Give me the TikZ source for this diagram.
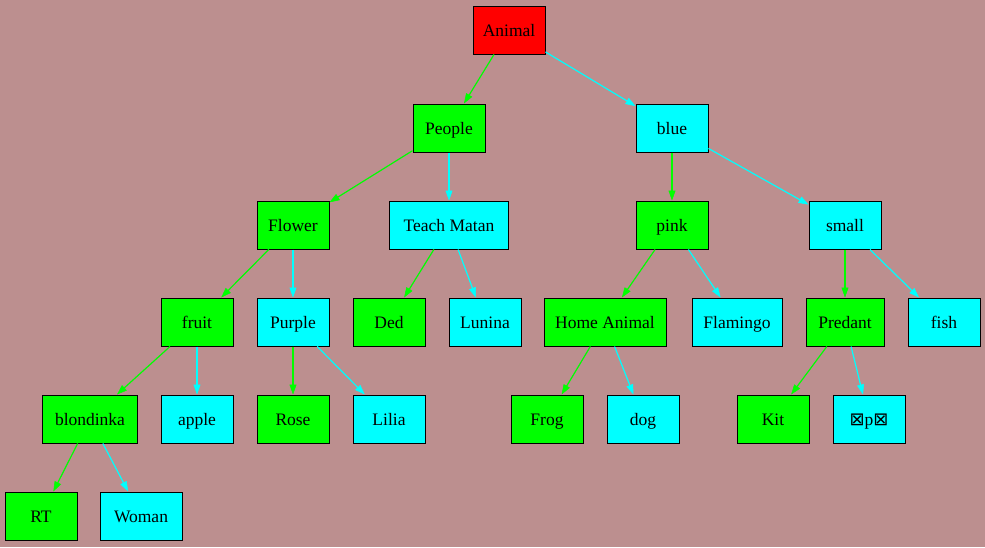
\documentclass[tikz,border=0pt]{standalone}
\usepackage{fontspec}
\setmainfont{Liberation Serif}
\newfontfamily\symfont{DejaVu Sans}
\usetikzlibrary{arrows.meta}
\definecolor{bgc}{HTML}{BC8F8F}
\definecolor{gr}{HTML}{00FF00}
\definecolor{cy}{HTML}{00FFFF}
\definecolor{rd}{HTML}{FF0000}
\tikzset{
  box/.style={draw=black, line width=1pt, minimum height=48pt, minimum width=72pt, inner sep=0pt, text height=12.5pt, text depth=0pt, font=\fontsize{17.5}{20}\selectfont},
  gbox/.style={box, fill=gr},
  cbox/.style={box, fill=cy},
  rbox/.style={box, fill=rd},
  gedge/.style={draw=gr, line width=1.2pt, -{Triangle[length=10pt,width=7pt,fill=gr,line width=0.5pt]}},
  cedge/.style={draw=cy, line width=1.2pt, -{Triangle[length=10pt,width=7pt,fill=cy,line width=0.5pt]}}
}
\begin{document}
\begin{tikzpicture}[x=1pt,y=-1pt]
\fill[bgc] (0,0) rectangle (985,547);
\useasboundingbox (0,0) rectangle (985,547);
\node[rbox] (animal) at (509,30) {Animal};
\node[gbox] (people) at (449,128) {People};
\node[cbox] (blue) at (672,128) {blue};
\node[gbox] (flower) at (293,225) {Flower};
\node[cbox, minimum width=119pt] (teach) at (449,225) {Teach Matan};
\node[gbox] (pink) at (672,225) {pink};
\node[cbox] (small) at (845,225) {small};
\node[gbox] (fruit) at (197,322) {fruit};
\node[cbox] (purple) at (293,322) {Purple};
\node[gbox] (ded) at (389,322) {Ded};
\node[cbox] (lunina) at (485,322) {Lunina};
\node[gbox, minimum width=122pt] (home) at (605,322) {Home Animal};
\node[cbox, minimum width=90pt] (flamingo) at (737,322) {Flamingo};
\node[gbox, minimum width=78pt] (predant) at (845,322) {Predant};
\node[cbox] (fish) at (944,322) {fish};
\node[gbox, minimum width=95pt] (blond) at (90,419) {blondinka};
\node[cbox] (apple) at (197,419) {apple};
\node[gbox] (rose) at (293,419) {Rose};
\node[cbox] (lilia) at (389,419) {Lilia};
\node[gbox] (frog) at (547,419) {Frog};
\node[cbox] (dog) at (643,419) {dog};
\node[gbox] (kit) at (773,419) {Kit};
\node[cbox] (krp) at (869,419) {{\symfont\fontsize{18}{19}\selectfont ⊠}p{\symfont\fontsize{18}{19}\selectfont ⊠}};
\node[gbox] (rt) at (41,516) {RT};
\node[cbox, minimum width=82pt] (woman) at (141,516) {Woman};
\draw[gedge] (animal) -- (people);
\draw[cedge] (animal) -- (blue);
\draw[gedge] (people) -- (flower);
\draw[cedge] (people) -- (teach);
\draw[gedge] (blue) -- (pink);
\draw[cedge] (blue) -- (small);
\draw[gedge] (flower) -- (fruit);
\draw[cedge] (flower) -- (purple);
\draw[gedge] (teach) -- (ded);
\draw[cedge] (teach) -- (lunina);
\draw[gedge] (pink) -- (home);
\draw[cedge] (pink) -- (flamingo);
\draw[gedge] (small) -- (predant);
\draw[cedge] (small) -- (fish);
\draw[gedge] (fruit) -- (blond);
\draw[cedge] (fruit) -- (apple);
\draw[gedge] (purple) -- (rose);
\draw[cedge] (purple) -- (lilia);
\draw[gedge] (home) -- (frog);
\draw[cedge] (home) -- (dog);
\draw[gedge] (predant) -- (kit);
\draw[cedge] (predant) -- (krp);
\draw[gedge] (blond) -- (rt);
\draw[cedge] (blond) -- (woman);
\end{tikzpicture}
\end{document}
